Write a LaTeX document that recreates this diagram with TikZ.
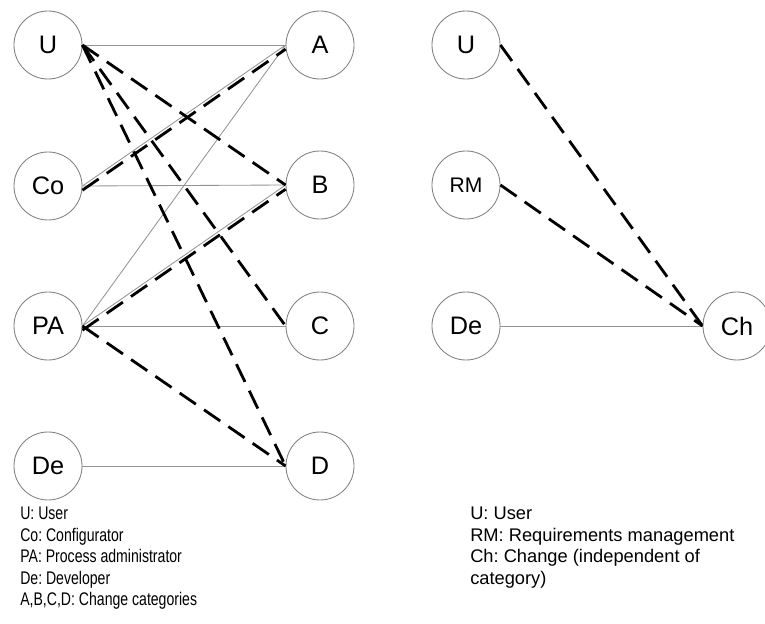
\documentclass[tikz,border=0pt]{standalone}
\usepackage{fontspec}
\setmainfont{Liberation Sans}
\newfontfamily\legendfont[FakeStretch=0.77]{Liberation Sans}

\begin{document}
\begin{tikzpicture}[x=0.025cm,y=-0.025cm,
  role/.style={circle,draw=gray,line width=0.6pt,minimum size=1.7cm,inner sep=0pt,
    font=\fontsize{18}{20}\selectfont},
  link/.style={gray!85,line width=0.6pt},
  dep/.style={black,line width=2pt,dash pattern=on 14pt off 7pt},
  legend/.style={anchor=north west,align=left,inner sep=0pt}]
  \useasboundingbox (0,0) rectangle (765,624);
  % Links: Rollen und Aenderungskategorien
  \node[role] (U)  at (48,45)  {U};
  \node[role] (Co) at (48,186) {Co};
  \node[role] (PA) at (48,326) {PA};
  \node[role] (De) at (48,466) {De};
  \node[role] (A) at (320,45)  {A};
  \node[role] (B) at (320,185) {B};
  \node[role] (C) at (320,326) {C};
  \node[role] (D) at (320,466) {D};
  % duenne Linien
  \draw[link] (U.east) -- (A.west);
  \draw[link] (Co.east) -- (A.west);
  \draw[link] (Co.east) -- (B.west);
  \draw[link] (PA.east) -- (A.west);
  \draw[link] (PA.east) -- (B.west);
  \draw[link] (PA.east) -- (C.west);
  \draw[link] (De.east) -- (D.west);
  % gestrichelte Linien
  \draw[dep] (U.east) -- (B.west);
  \draw[dep] (U.east) -- (C.west);
  \draw[dep] (U.east) -- (D.west);
  \draw[dep] ([yshift=-3pt]Co.east) -- ([yshift=-3pt]A.west);
  \draw[dep] ([yshift=-3pt]PA.east) -- ([yshift=-3pt]B.west);
  \draw[dep] (PA.east) -- (D.west);
  % Rechts: Aenderung unabhaengig von Kategorie
  \node[role] (U2) at (466,45)  {U};
  \node[role,font=\fontsize{15}{17}\selectfont] (RM) at (466,185) {RM};
  \node[role] (De2) at (466,326) {De};
  \node[role] (Ch) at (737,326) {Ch};
  \draw[link] (De2.east) -- (Ch.west);
  \draw[dep] (U2.east) -- (Ch.west);
  \draw[dep] (RM.east) -- (Ch.west);
  % Legenden
  \node[legend,font=\legendfont\fontsize{13}{15.3}\selectfont\frenchspacing] (legL) at (20,507)
    {U: User\\Co: Configurator\\PA: Process administrator\\De: Developer\\A,B,C,D: Change categories};
  \node[legend,font=\fontsize{13}{15.3}\selectfont\frenchspacing] (legR) at (470,507)
    {U: User\\RM: Requirements management\\Ch: Change (independent of\\category)};
\end{tikzpicture}
\end{document}
